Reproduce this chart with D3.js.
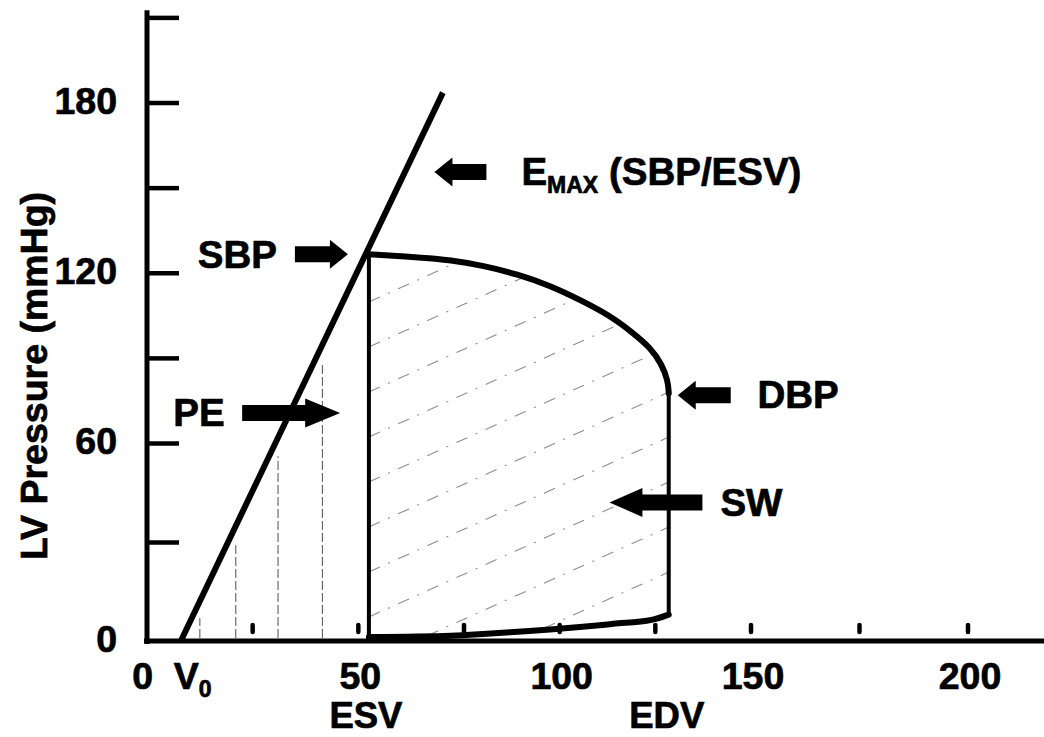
<!DOCTYPE html>
<html><head><meta charset="utf-8">
<script src="https://cdn.jsdelivr.net/npm/d3@7"></script>
<style>
html,body{margin:0;padding:0;background:#fff;}
svg{display:block;}
text{font-family:"Liberation Sans", Arial, Helvetica, sans-serif;font-weight:700;fill:#000;stroke:#000;stroke-width:0.7px;}
</style></head><body>
<svg id="chart" width="1044" height="737"></svg>
<script>
// Left-ventricular pressure–volume loop with the end-systolic pressure–volume relation

// axis ticks
const volumeLabels = [50, 100, 150, 200];
const volumeMarks = [25, 50, 75, 100, 125, 150, 175, 200];
const pressureLabels = [0, 60, 120, 180];
const pressureMarks = [30, 60, 90, 120, 150, 180, 210];

// key points of the cycle (ml, mmHg)
const V0 = 8, ESV = 52.5, EDV = 128.5;
const SBP = 126.5, DBP = 77.5, EDP = 8;

// ejection limb, from end-systole (left) to the opening of the aortic valve (right)
const ejectVolume   = [52.5, 64, 72, 80, 89, 97.5, 106, 113, 119, 123.7, 126.6, 128.3, 128.5];
const ejectPressure = [126.5, 125.5, 124.5, 122.5, 119.5, 115.5, 110, 105, 99, 93.6, 88, 82, 77.5];

// filling limb
const fillVolume   = [52.5, 72, 80, 89, 97.5, 106, 114, 124, 128.5];
const fillPressure = [1.2, 1.6, 2.1, 2.8, 3.5, 4.3, 5.2, 6.4, 8];

// ESPVR (Emax) line
const espvrVolume = [V0, 70];
const espvrPressure = [0, 183.5];

// vertical shading under the ESPVR (potential energy)
const peVolume = [12.5, 21, 31, 41.5];
const peTop = [7, 29, 56, 88];

const svg = d3.select("#chart");

const x = d3.scaleLinear().domain([0, 75, 150, 200]).range([147, 464, 751, 968]);
const y = d3.scaleLinear().domain([0, 60, 210]).range([641, 443, 17.4]);

const X0 = x(0), Y0 = y(0);

const ejectPts = ejectVolume.map((v, i) => [v, ejectPressure[i]]);
const fillPts = fillVolume.map((v, i) => [v, fillPressure[i]]);
const ejectCurve = d3.line().x(d => x(d[0])).y(d => y(d[1])).curve(d3.curveBasis);
const fillCurve = d3.line().x(d => x(d[0])).y(d => y(d[1])).curve(d3.curveMonotoneX);

// ---- stroke-work hatching, clipped to the loop ----
svg.append("clipPath").attr("id", "loopClip")
  .append("path")
  .attr("d", "M" + x(ESV) + "," + Y0 + " L" + x(ESV) + "," + y(SBP) + " " +
       ejectCurve(ejectPts).slice(1) +
       " L" + x(EDV) + "," + y(EDP) + " " +
       fillCurve(fillPts.slice().reverse()).slice(1) + " Z");

const hatch = svg.append("g").attr("clip-path", "url(#loopClip)");
const hx1 = x(ESV), hx2 = x(EDV) + 4;
const slope = 0.45;
for (let y1 = 257; y1 <= 800; y1 += 45) {
  hatch.append("line")
    .attr("x1", hx1).attr("y1", y1)
    .attr("x2", hx2).attr("y2", y1 - slope * (hx2 - hx1))
    .attr("stroke", "#444").attr("stroke-width", 1.1)
    .attr("stroke-dasharray", "12,9,2,9").attr("opacity", 0.6);
}

// ---- PE verticals ----
svg.append("g").selectAll("line").data(peVolume).join("line")
  .attr("x1", d => x(d)).attr("x2", d => x(d))
  .attr("y1", Y0 - 3).attr("y2", (d, i) => y(peTop[i]))
  .attr("stroke", "#444").attr("stroke-width", 1.1)
  .attr("stroke-dasharray", "9,3").attr("opacity", 0.85);

// ---- axes ----
const yAxis = d3.axisRight(y).tickValues(pressureMarks).tickSize(32).tickFormat("");
const gy = svg.append("g").attr("transform", `translate(${X0},0)`).call(yAxis);
gy.select(".domain").remove();
gy.selectAll(".tick line").attr("stroke", "#000").attr("stroke-width", 4.5);

svg.append("line")
  .attr("x1", X0).attr("x2", X0).attr("y1", y(212.5)).attr("y2", Y0 + 3)
  .attr("stroke", "#000").attr("stroke-width", 5);
svg.append("line")
  .attr("x1", X0 - 3).attr("x2", 1044).attr("y1", Y0).attr("y2", Y0)
  .attr("stroke", "#000").attr("stroke-width", 5);

// short volume marks sitting just above the baseline
svg.append("g").selectAll("line").data(volumeMarks).join("line")
  .attr("x1", d => x(d)).attr("x2", d => x(d))
  .attr("y1", Y0 - 16).attr("y2", Y0 - 9)
  .attr("stroke", "#000").attr("stroke-width", 4.5).attr("stroke-linecap", "round");

// tick labels
svg.append("g").selectAll("text").data(pressureLabels).join("text")
  .attr("x", 117).attr("y", d => y(d) + 11)
  .attr("text-anchor", "end").attr("font-size", 37.5)
  .text(d => d);

svg.append("g").selectAll("text").data(volumeLabels).join("text")
  .attr("x", d => x(d) + 2).attr("y", Y0 + 48)
  .attr("text-anchor", "middle").attr("font-size", 37.5)
  .text(d => d);

svg.append("text").attr("x", X0 + 6).attr("y", Y0 + 48)
  .attr("text-anchor", "end").attr("font-size", 37.5).text("0");

const v0Label = svg.append("text").attr("x", x(V0) - 7).attr("y", Y0 + 48).attr("font-size", 37.5);
v0Label.append("tspan").text("V");
v0Label.append("tspan").attr("font-size", 23).attr("dy", 8).text("0");

svg.append("text").attr("x", x(ESV) - 3).attr("y", Y0 + 87)
  .attr("text-anchor", "middle").attr("font-size", 36.5).text("ESV");
svg.append("text").attr("x", x(EDV) - 2).attr("y", Y0 + 87)
  .attr("text-anchor", "middle").attr("font-size", 36.5).text("EDV");

svg.append("text")
  .attr("transform", "translate(47,376) rotate(-90)")
  .attr("text-anchor", "middle").attr("font-size", 37.5)
  .text("LV Pressure (mmHg)");

// ---- ESPVR line ----
svg.append("line")
  .attr("x1", x(espvrVolume[0])).attr("y1", y(espvrPressure[0]))
  .attr("x2", x(espvrVolume[1])).attr("y2", y(espvrPressure[1]))
  .attr("stroke", "#000").attr("stroke-width", 6);

// ---- the loop ----
svg.append("path")
  .attr("d", ejectCurve(ejectPts))
  .attr("fill", "none").attr("stroke", "#000").attr("stroke-width", 6).attr("stroke-linecap", "round");
svg.append("path")
  .attr("d", fillCurve(fillPts))
  .attr("fill", "none").attr("stroke", "#000").attr("stroke-width", 6).attr("stroke-linecap", "round");
svg.append("line")
  .attr("x1", x(ESV)).attr("x2", x(ESV)).attr("y1", Y0).attr("y2", y(SBP))
  .attr("stroke", "#000").attr("stroke-width", 4);
svg.append("line")
  .attr("x1", x(EDV)).attr("x2", x(EDV)).attr("y1", y(EDP)).attr("y2", y(DBP))
  .attr("stroke", "#000").attr("stroke-width", 4);

// ---- block arrows and labels ----
function arrowPath(tx, ty, dir, len, head, s = 8, h = 14.5) {
  const bx = tx - dir * len, hx = tx - dir * head;
  return `M${tx},${ty} L${hx},${ty - h} L${hx},${ty - s} L${bx},${ty - s} ` +
         `L${bx},${ty + s} L${hx},${ty + s} L${hx},${ty + h} Z`;
}
const arrows = svg.append("g");
function addArrow(tx, ty, dir, len, head) {
  arrows.append("path").attr("d", arrowPath(tx, ty, dir, len, head)).attr("fill", "#000");
}
function addLabel(tx, ty, str) {
  return svg.append("text").attr("x", tx).attr("y", ty).attr("font-size", 38.5).text(str);
}

// SBP
addArrow(x(ESV) - 21, y(SBP), 1, 53, 18);
addLabel(x(12), y(SBP) + 14, "SBP");

// Emax
addArrow(x(68), y(155.5), -1, 52, 18);
const emax = svg.append("text").attr("x", x(90)).attr("y", y(155.5) + 13).attr("font-size", 38.5);
emax.append("tspan").text("E");
emax.append("tspan").attr("font-size", 23).attr("dy", 8).text("MAX");
emax.append("tspan").attr("dy", -8).text(" (SBP/ESV)");

// DBP
addArrow(x(EDV) + 9, y(DBP) + 2, -1, 53, 18);
addLabel(x(151.5), y(DBP) + 15, "DBP");

// SW
addArrow(x(113), y(42), -1, 93, 33);
addLabel(x(142), y(42) + 14, "SW");

// PE
addArrow(x(45.7), y(70.6), 1, 98, 35);
addLabel(x(6.2), y(70.6) + 13, "PE");
</script>
</body></html>
